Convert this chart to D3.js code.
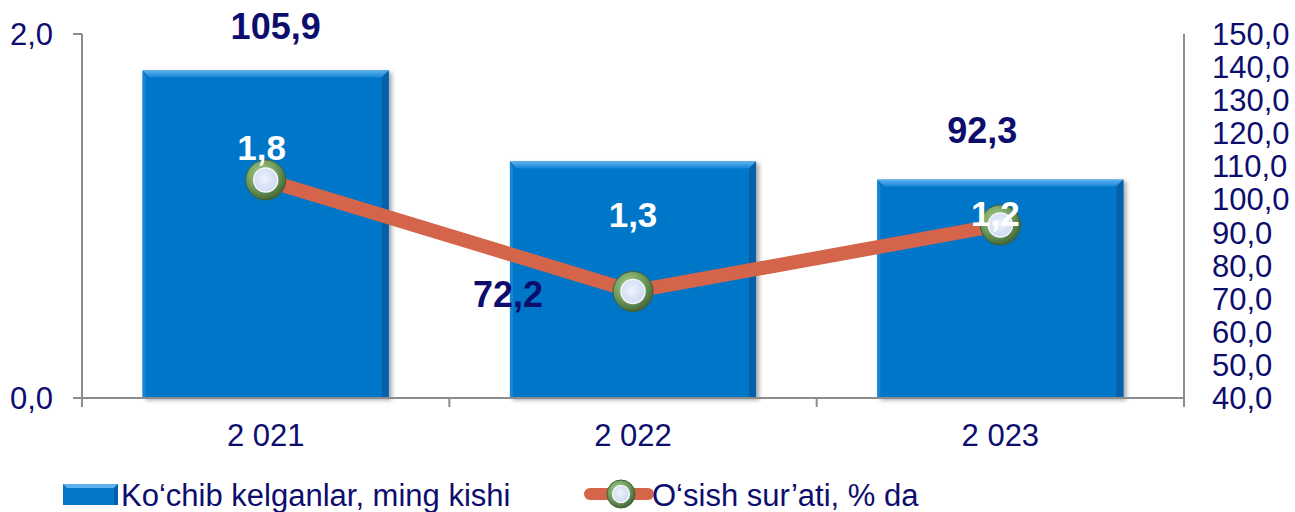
<!DOCTYPE html>
<html><head><meta charset="utf-8">
<script src="https://cdn.jsdelivr.net/npm/d3@7"></script>
<style>
html,body{margin:0;padding:0;background:#fff;}
svg{display:block;font-family:"Liberation Sans",Arial,sans-serif;}
</style></head>
<body>
<svg id="chart" width="1295" height="512"></svg>
<script>
const categories = ["2 021", "2 022", "2 023"];
const barValues = [1.8, 1.3, 1.2];
const lineValues = [105.9, 72.2, 92.3];
const leftTicks = [0, 2];
const rightTicks = [40,50,60,70,80,90,100,110,120,130,140,150];
const seriesNames = ["Ko‘chib kelganlar, ming kishi", "O‘sish sur’ati, % da"];

const fmt = v => d3.format(".1f")(v).replace(".", ",");
const navy = "#0d0d6e";
const svg = d3.select("#chart");
const L = 82, R = 1184, T = 34, B = 398;
const FS = 31;

const x = d3.scaleBand().domain(categories).range([L, R]).paddingInner(0.33).paddingOuter(0.165);
const yL = d3.scaleLinear().domain([0, 2]).range([B, T]);
const yR = d3.scaleLinear().domain([40, 150]).range([B, T]);

const defs = svg.append("defs");
const mg = defs.append("radialGradient").attr("id","mk").attr("cx","40%").attr("cy","35%").attr("r","65%");
mg.append("stop").attr("offset","0%").attr("stop-color","#a9cf94");
mg.append("stop").attr("offset","60%").attr("stop-color","#6f9c5c");
mg.append("stop").attr("offset","100%").attr("stop-color","#44683a");
const ig = defs.append("radialGradient").attr("id","mki").attr("cx","45%").attr("cy","45%").attr("r","60%");
ig.append("stop").attr("offset","0%").attr("stop-color","#eef3fc");
ig.append("stop").attr("offset","100%").attr("stop-color","#cbd8f0");
const tg = defs.append("linearGradient").attr("id","topb").attr("x1","0").attr("y1","0").attr("x2","0").attr("y2","1");
tg.append("stop").attr("offset","0%").attr("stop-color","#5fb2ee");
tg.append("stop").attr("offset","100%").attr("stop-color","#1585d6");
const shd = defs.append("filter").attr("id","sh").attr("x","-10%").attr("y","-10%").attr("width","130%").attr("height","130%");
shd.append("feDropShadow").attr("dx",3).attr("dy",2).attr("stdDeviation",2).attr("flood-color","#000").attr("flood-opacity",0.35);

// bars
const bw = x.bandwidth(), bev = 7;
const bars = svg.append("g").selectAll("g").data(barValues).join("g");
bars.append("rect")
  .attr("x",(d,i)=>x(categories[i])).attr("y",d=>yL(d))
  .attr("width",bw).attr("height",d=>B-yL(d))
  .attr("fill","#0676c9").attr("filter","url(#sh)");
bars.append("path").attr("fill","url(#topb)").attr("d",(d,i)=>{
  const x0=x(categories[i]), y0=yL(d);
  return `M${x0},${y0}H${x0+bw}L${x0+bw-bev},${y0+bev}H${x0+bev}Z`;});
bars.append("path").attr("fill","#0560a9").attr("d",(d,i)=>{
  const x0=x(categories[i]), y0=yL(d);
  return `M${x0+bw},${y0}V${B}H${x0+bw-bev}V${y0+bev}Z`;});
bars.append("path").attr("fill","#1a86d3").attr("d",(d,i)=>{
  const x0=x(categories[i]), y0=yL(d);
  return `M${x0},${y0}V${B}H${x0+3}V${y0+bev}Z`;});

// axes
const axG = svg.append("g").attr("stroke","#8c8c8c").attr("stroke-width",2);
axG.append("line").attr("x1",L).attr("x2",L).attr("y1",T).attr("y2",B+9);
axG.append("line").attr("x1",L-9).attr("x2",R).attr("y1",B).attr("y2",B);
axG.append("line").attr("x1",R).attr("x2",R).attr("y1",T).attr("y2",B+9);
leftTicks.forEach(t=>axG.append("line").attr("x1",L-9).attr("x2",L).attr("y1",yL(t)).attr("y2",yL(t)));
x.domain().forEach((c,i)=>{ if(i>0){ const xx = x(c)-x.step()*x.paddingInner()/2; axG.append("line").attr("x1",xx).attr("x2",xx).attr("y1",B).attr("y2",B+9);} });

svg.append("g").selectAll("text").data(leftTicks).join("text")
  .attr("x",L-29).attr("y",d=>yL(d)+11).attr("text-anchor","end")
  .attr("font-size",FS).attr("fill",navy).text(fmt);
svg.append("g").selectAll("text").data(rightTicks).join("text")
  .attr("x",R+28).attr("y",d=>yR(d)+11).attr("text-anchor","start")
  .attr("font-size",FS).attr("fill",navy).text(fmt);
svg.append("g").selectAll("text").data(categories).join("text")
  .attr("x",d=>x(d)+bw/2).attr("y",446).attr("text-anchor","middle")
  .attr("font-size",FS).attr("fill",navy).text(d=>d);

// line
const pts = lineValues.map((v,i)=>[x(categories[i])+bw/2, yR(v)]);
svg.append("path").attr("d",d3.line()(pts)).attr("fill","none")
  .attr("stroke","#d4644a").attr("stroke-width",14).attr("stroke-linejoin","round");

function marker(g, cx, cy, r){
  g.append("circle").attr("cx",cx).attr("cy",cy).attr("r",r).attr("fill","url(#mk)").attr("stroke","#3f5f35").attr("stroke-width",1);
  g.append("circle").attr("cx",cx).attr("cy",cy).attr("r",r*0.6).attr("fill","url(#mki)").attr("stroke","#f4f7fc").attr("stroke-width",1.5);
}
const mG = svg.append("g");
pts.forEach(p=>marker(mG,p[0],p[1],20));

// bar labels (white)
const barLabelOff = [[-4,90],[0,66],[-5,46]];
svg.append("g").selectAll("text").data(barValues).join("text")
  .attr("x",(d,i)=>x(categories[i])+bw/2+barLabelOff[i][0])
  .attr("y",(d,i)=>yL(d)+barLabelOff[i][1])
  .attr("text-anchor","middle").attr("font-size",35).attr("font-weight","bold")
  .attr("fill","#fff").text(fmt);

// line labels (navy)
const lineLabelOff = [[10,-141],[-125,16],[-18,-82]];
svg.append("g").selectAll("text").data(lineValues).join("text")
  .attr("x",(d,i)=>pts[i][0]+lineLabelOff[i][0])
  .attr("y",(d,i)=>pts[i][1]+lineLabelOff[i][1])
  .attr("text-anchor","middle").attr("font-size",36).attr("font-weight","bold")
  .attr("fill",navy).text(fmt);

// legend
const lg = svg.append("g");
lg.append("rect").attr("x",63).attr("y",484).attr("width",55).attr("height",21).attr("fill","#0676c9");
lg.append("path").attr("d","M63,484H118L114,488H67Z").attr("fill","#5fb2ee");
lg.append("path").attr("d","M118,484V505H114V488Z").attr("fill","#0560a9");
lg.append("text").attr("x",121).attr("y",506).attr("font-size",FS).attr("fill",navy).text(seriesNames[0]);
lg.append("line").attr("x1",590).attr("x2",648).attr("y1",494).attr("y2",494)
  .attr("stroke","#d4644a").attr("stroke-width",12).attr("stroke-linecap","round");
marker(lg,621,494,14);
lg.append("text").attr("x",652).attr("y",506).attr("font-size",FS).attr("fill",navy).text(seriesNames[1]);
</script>
</body></html>
